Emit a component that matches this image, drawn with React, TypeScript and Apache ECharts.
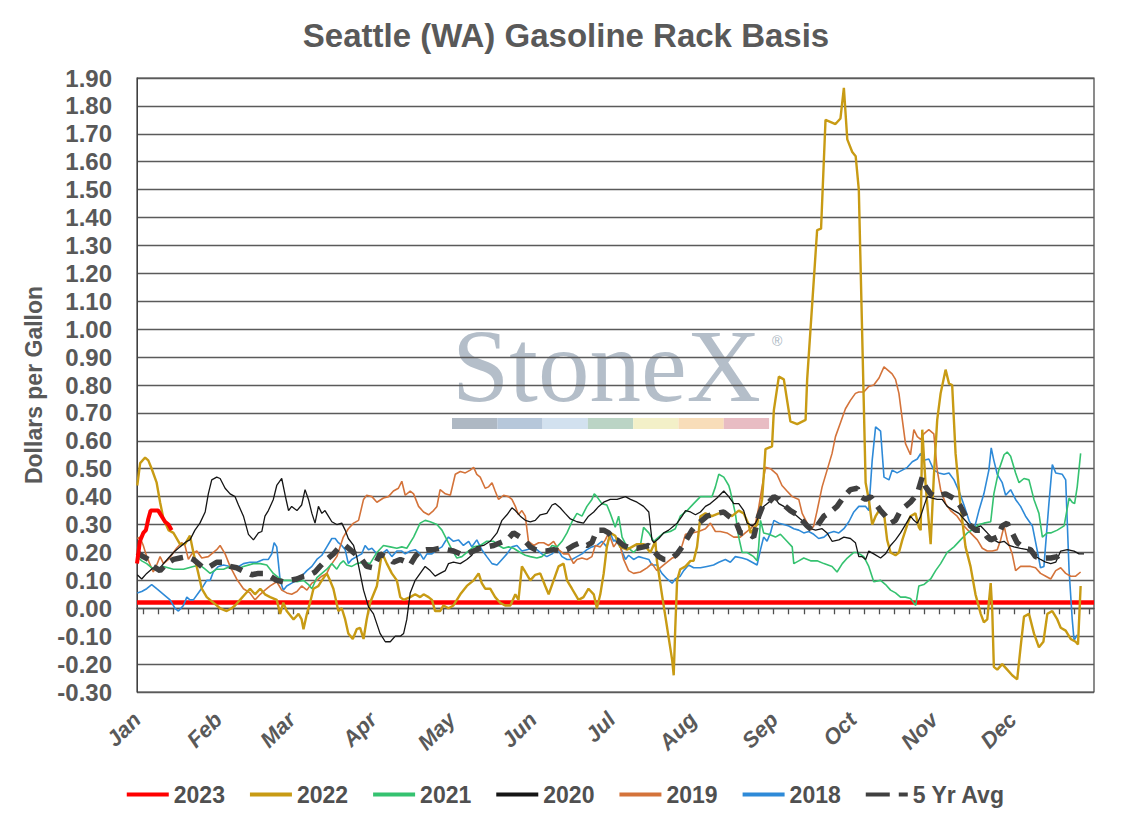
import React, { useEffect, useRef } from "react";
import * as echarts from "echarts";

const monthNames = ["Jan", "Feb", "Mar", "Apr", "May", "Jun", "Jul", "Aug", "Sep", "Oct", "Nov", "Dec"];
const monthStartDays = [0, 31, 59, 90, 120, 151, 181, 212, 243, 273, 304, 334];
const yTickMin = -0.3;
const yTickMax = 1.9;
const yTickStep = 0.1;
const refLineValue = 0.02;

const s2023: [number, number][] = [[0,0.16],[1.1,0.24],[2.4,0.27],[3.4,0.28],[4.3,0.32],[5.2,0.35],[6.9,0.35],[8.1,0.35],[9.4,0.33],[10.7,0.31],[12,0.3],[13.2,0.28]];

const s2022: [number, number][] = [[0.1,0.44],[1.2,0.52],[3.1,0.54],[4.3,0.53],[5.6,0.5],[7.5,0.45],[8.8,0.38],[10.1,0.32],[12,0.28],[13.9,0.27],[16.4,0.23],[18.3,0.23],[20.2,0.26],[21.5,0.2],[23.4,0.125],[24.7,0.07],[26.6,0.04],[29.1,0.02],[31.7,0],[34.2,-0.01],[36.1,0],[37.4,0.01],[39.3,0.03],[41.2,0.05],[43.1,0.07],[45,0.05],[47,0.07],[48.8,0.05],[50.8,0.04],[53.3,0.03],[54.6,-0.02],[55.8,0.02],[57.1,-0.01],[59.7,-0.04],[61.6,-0.02],[62.8,-0.04],[63.5,-0.075],[64.8,-0.02],[66,0.02],[67.3,0.07],[69.2,0.08],[70.5,0.1],[72.4,0.125],[73.6,0.1],[74.9,0.07],[76.8,-0.01],[78.1,0],[79.4,-0.04],[80.6,-0.09],[82.3,-0.11],[83.8,-0.075],[85.1,-0.07],[86.4,-0.11],[87.6,-0.04],[88.9,0.02],[91.5,0.08],[93.4,0.2],[95.3,0.16],[97.2,0.125],[99.1,0.1],[100.4,0.04],[101.7,0.03],[104.2,0.04],[106.1,0.05],[108,0.04],[109.3,0.05],[111.2,0.04],[112.5,0.03],[113.7,-0.01],[115.6,-0.01],[116.9,0.01],[118.8,0],[120.7,0.01],[123.3,0.05],[125.8,0.08],[128.4,0.1],[130.3,0.125],[131.5,0.09],[132.8,0.07],[134.7,0.07],[136.6,0.04],[138.5,0.02],[140.4,0.01],[142.4,0.01],[144.3,0.05],[145.5,0.03],[146.8,0.15],[148.1,0.13],[150,0.1],[151.9,0.12],[153.8,0.125],[155.7,0.08],[157,0.05],[158.9,0.1],[160.8,0.15],[162.7,0.16],[164,0.1],[165.9,0.07],[168.4,0.03],[170.3,0.04],[172.2,0.07],[174.2,0.05],[175.4,0],[176.7,0.05],[178,0.125],[179.2,0.22],[180.5,0.27],[182.4,0.26],[184.3,0.22],[186.9,0.21],[190.7,0.23],[193.2,0.23],[195.8,0.2],[197.7,0.24],[198.3,0.17],[200.2,0.05],[202.2,-0.07],[204.1,-0.185],[204.7,-0.24],[205.3,-0.07],[206,0.1],[207.2,0.14],[209.2,0.15],[211.1,0.17],[212.3,0.17],[213.6,0.22],[214.9,0.33],[216.8,0.34],[219.3,0.33],[221.9,0.34],[224.4,0.34],[226.9,0.33],[229.5,0.35],[231.4,0.34],[233.3,0.3],[234,0.27],[236.5,0.3],[238.4,0.39],[239.3,0.51],[239.7,0.57],[242.2,0.58],[242.9,0.71],[244.8,0.83],[246.7,0.82],[249.2,0.67],[251.8,0.66],[255,0.675],[255.6,0.82],[259.4,1.355],[260.9,1.36],[262.6,1.75],[266.4,1.735],[268.3,1.755],[269.6,1.865],[270.9,1.68],[272.8,1.635],[274.1,1.62],[275.3,1.5],[277.9,0.45],[279.1,0.39],[280.4,0.3],[281.7,0.33],[283,0.35],[284.9,0.34],[286.1,0.245],[287.4,0.2],[289.3,0.19],[290.6,0.2],[291.9,0.245],[293.8,0.3],[295,0.33],[296.9,0.34],[298.2,0.29],[298.9,0.28],[299.5,0.64],[300.8,0.44],[302.7,0.23],[303.9,0.47],[305.2,0.675],[306.5,0.77],[308.4,0.855],[309.7,0.805],[310.9,0.8],[312.2,0.555],[314.1,0.365],[316,0.22],[317.9,0.15],[319.8,0.05],[321.8,-0.02],[323,-0.05],[324.3,-0.04],[325.6,0.09],[326.2,-0.01],[326.8,-0.21],[328.1,-0.22],[330,-0.2],[331.9,-0.22],[333.8,-0.24],[335.7,-0.255],[337,-0.14],[338.3,-0.03],[340.2,-0.02],[342.1,-0.09],[344,-0.14],[345.7,-0.12],[347.2,-0.02],[349.1,-0.01],[351,-0.04],[352.3,-0.07],[354.2,-0.08],[356.1,-0.11],[358,-0.12],[358.9,-0.13],[359.9,0.08]];

const s2021: [number, number][] = [[0.1,0.185],[1.8,0.17],[3.7,0.16],[6.2,0.14],[10.1,0.15],[13.9,0.14],[17.7,0.14],[21.5,0.15],[24,0.155],[26,0.14],[27.9,0.125],[30.4,0.14],[33,0.14],[35.5,0.15],[38,0.14],[40.6,0.15],[44.4,0.16],[47,0.16],[49.5,0.155],[52,0.125],[54,0.11],[55.8,0.1],[58.4,0.1],[61,0.095],[63.5,0.1],[65.4,0.085],[66.7,0.07],[68.6,0.11],[70.5,0.125],[72.4,0.14],[74.3,0.16],[76.2,0.14],[77.5,0.16],[78.7,0.17],[80,0.155],[81.9,0.15],[83.8,0.16],[86.4,0.165],[88.9,0.16],[91.5,0.2],[94,0.225],[96.6,0.22],[99.1,0.215],[101,0.22],[102.9,0.215],[105.5,0.255],[108,0.305],[109.9,0.315],[111.8,0.31],[114.4,0.3],[116.3,0.28],[118.2,0.245],[120.1,0.21],[122,0.18],[123.9,0.185],[125.8,0.2],[128.4,0.22],[130.9,0.225],[133.4,0.24],[136,0.24],[137.9,0.225],[139.8,0.215],[141.7,0.22],[143.6,0.215],[146.2,0.2],[148.1,0.19],[150,0.185],[152.5,0.18],[154.4,0.185],[156.3,0.2],[158.3,0.225],[160.2,0.22],[162.1,0.24],[164,0.27],[165.9,0.31],[167.8,0.34],[169.7,0.33],[171.6,0.365],[173.5,0.39],[174.4,0.41],[175.4,0.4],[177.3,0.375],[179.2,0.37],[180.5,0.34],[182.4,0.29],[183.7,0.33],[185,0.255],[186.9,0.22],[189.4,0.2],[192,0.225],[193.2,0.29],[195.2,0.27],[197.1,0.24],[199,0.255],[200.9,0.27],[203.4,0.275],[205.3,0.285],[207.2,0.33],[209.8,0.35],[212.3,0.375],[214.9,0.4],[217.4,0.4],[219.3,0.4],[220.6,0.435],[221.9,0.48],[223.8,0.47],[225.7,0.44],[226.3,0.42],[228.2,0.34],[229.5,0.255],[230.8,0.2],[232.7,0.2],[235.2,0.185],[236.5,0.17],[237.1,0.22],[237.8,0.315],[239,0.27],[241,0.265],[243.5,0.255],[245.4,0.265],[247.9,0.24],[249.9,0.22],[250.5,0.16],[252.4,0.17],[254.3,0.18],[256.9,0.17],[259.4,0.17],[262,0.16],[265.1,0.15],[267,0.13],[269,0.16],[270.9,0.18],[273.4,0.2],[274.7,0.2],[277.2,0.185],[279.1,0.15],[281,0.095],[283.6,0.1],[285.5,0.085],[287.4,0.065],[289.3,0.055],[291.2,0.04],[293.1,0.04],[295,0.035],[297,0.01],[298.2,0.08],[300.1,0.085],[302.7,0.105],[304.6,0.135],[306.5,0.16],[309,0.2],[311.6,0.22],[314.1,0.245],[316.7,0.27],[319.2,0.285],[321.1,0.3],[323,0.305],[325.6,0.31],[326.8,0.41],[328.7,0.495],[330.7,0.55],[331.9,0.56],[333.2,0.545],[335.1,0.485],[336.4,0.45],[338.3,0.465],[340.2,0.46],[342.1,0.39],[344,0.34],[345.3,0.255],[347.2,0.27],[348.5,0.27],[351,0.28],[353.6,0.295],[355.5,0.395],[356.7,0.38],[357.6,0.375],[358.6,0.435],[359.9,0.555]];

const s2020: [number, number][] = [[0.1,0.12],[1.8,0.105],[3.7,0.125],[6.2,0.145],[8.1,0.135],[10.1,0.16],[12,0.18],[13.9,0.2],[16.4,0.22],[19,0.24],[20.2,0.245],[22.1,0.28],[24,0.305],[26,0.345],[27.2,0.41],[28.5,0.46],[30.4,0.47],[31.7,0.465],[33.6,0.43],[35.5,0.41],[37.4,0.4],[38.7,0.37],[40.6,0.33],[42.5,0.265],[44.4,0.245],[46.3,0.27],[47.6,0.275],[48.8,0.33],[50.1,0.35],[52,0.39],[53.3,0.44],[55.2,0.465],[56.5,0.405],[57.8,0.35],[59,0.365],[61,0.35],[62.8,0.37],[64.1,0.425],[65.4,0.39],[66.7,0.34],[67.9,0.305],[69.2,0.365],[70.5,0.34],[71.7,0.35],[73,0.33],[74.3,0.31],[76.2,0.3],[78.1,0.305],[79.4,0.28],[80.6,0.25],[82.6,0.225],[83.8,0.185],[85.1,0.125],[86.4,0.065],[88.3,0.005],[90.2,-0.02],[92.7,-0.09],[94.7,-0.12],[96.6,-0.12],[98.5,-0.1],[100.4,-0.1],[101.7,-0.09],[102.9,-0.04],[104.2,0.055],[106.1,0.1],[108,0.125],[109.9,0.15],[111.8,0.135],[113.7,0.115],[115.6,0.125],[117.6,0.135],[118.8,0.16],[120.7,0.165],[123.3,0.16],[125.8,0.175],[127.7,0.19],[129.6,0.22],[132.2,0.225],[134.7,0.24],[137.3,0.27],[139.2,0.315],[141.1,0.335],[143,0.36],[144.3,0.35],[146.2,0.33],[148.1,0.315],[150,0.31],[151.9,0.315],[153.8,0.335],[156.3,0.34],[158.3,0.37],[159.5,0.375],[161.4,0.36],[163.3,0.34],[165.3,0.32],[167.8,0.31],[170.3,0.305],[172.2,0.33],[174.2,0.345],[176.1,0.365],[178,0.38],[180.5,0.39],[183.1,0.39],[186.3,0.4],[188.2,0.39],[190.7,0.38],[193.2,0.365],[195.2,0.345],[196.4,0.245],[197.1,0.235],[199,0.25],[200.9,0.27],[202.8,0.28],[204.7,0.295],[206,0.305],[207.9,0.33],[209.2,0.35],[211.1,0.345],[213,0.335],[214.9,0.345],[216.8,0.365],[218.7,0.375],[221.2,0.395],[223.8,0.42],[225.7,0.4],[227.6,0.375],[229.5,0.375],[231.4,0.35],[232.7,0.305],[234.6,0.295],[235.9,0.305],[237.1,0.33],[239,0.365],[241,0.38],[242.9,0.4],[244.8,0.375],[246.7,0.365],[249.2,0.345],[251.1,0.335],[253,0.32],[255,0.305],[256.9,0.285],[258.8,0.28],[261.3,0.285],[263.2,0.27],[265.1,0.24],[267.7,0.245],[269.6,0.255],[272.1,0.25],[274,0.235],[275.3,0.185],[276.6,0.185],[277.9,0.175],[279.1,0.205],[281,0.195],[283.6,0.18],[285.5,0.195],[287.4,0.225],[289.3,0.245],[291.2,0.27],[293.1,0.3],[295,0.33],[296.3,0.315],[297.6,0.305],[298.9,0.33],[300.1,0.365],[301.4,0.4],[303.3,0.395],[305.2,0.39],[307.1,0.39],[309,0.365],[311.6,0.35],[313.5,0.34],[315.4,0.32],[317.3,0.3],[319.2,0.285],[321.8,0.295],[324.3,0.27],[326.8,0.245],[328.7,0.235],[330.7,0.24],[332.6,0.225],[334.5,0.22],[337,0.215],[339.6,0.21],[342.1,0.19],[344.6,0.175],[346.6,0.165],[348.5,0.16],[350.4,0.165],[352.3,0.205],[354.8,0.21],[357.4,0.205],[359.3,0.195],[361.2,0.195]];

const s2019: [number, number][] = [[0.1,0.25],[1.1,0.255],[2.4,0.225],[3.7,0.185],[6.2,0.13],[7.5,0.155],[8.8,0.185],[10.1,0.16],[12,0.175],[15.1,0.215],[17,0.235],[18.3,0.225],[19.6,0.175],[20.9,0.195],[22.8,0.205],[24.7,0.18],[27.2,0.185],[30.4,0.21],[31.7,0.225],[33.6,0.195],[35.5,0.15],[38,0.105],[40.6,0.07],[43.1,0.055],[45,0.03],[47,0.05],[48.8,0.065],[50.8,0.08],[53.3,0.095],[55.2,0.065],[57.1,0.055],[59,0.05],[61,0.06],[62.8,0.08],[64.8,0.065],[66.7,0.09],[68.6,0.1],[70.5,0.115],[72.4,0.125],[73.6,0.15],[76.2,0.185],[78.7,0.255],[80.6,0.285],[82.6,0.305],[84.5,0.315],[86.4,0.39],[87.6,0.405],[89.6,0.4],[91.5,0.38],[94,0.395],[95.9,0.4],[97.8,0.42],[99.7,0.43],[101,0.455],[102.3,0.405],[104.2,0.42],[105.5,0.41],[107.4,0.365],[109.3,0.345],[111.2,0.335],[113.1,0.35],[114.4,0.365],[115.6,0.425],[117.6,0.41],[119.5,0.405],[121.4,0.48],[123.3,0.49],[125.2,0.485],[127.1,0.495],[128.4,0.505],[129.6,0.48],[130.9,0.47],[132.8,0.43],[134.1,0.435],[135.4,0.45],[136.6,0.42],[137.9,0.39],[139.8,0.405],[141.7,0.4],[143,0.39],[144.3,0.365],[145.5,0.335],[146.8,0.35],[148.1,0.33],[149.3,0.24],[151.3,0.225],[153.2,0.235],[155.1,0.235],[157,0.225],[158.9,0.24],[160.8,0.21],[162.7,0.195],[164.6,0.195],[166.5,0.16],[167.8,0.175],[169.7,0.18],[171.6,0.175],[173.5,0.185],[174.8,0.225],[176.7,0.22],[178.6,0.245],[179.9,0.27],[181.8,0.22],[183.7,0.245],[185.6,0.175],[187.5,0.135],[189.4,0.125],[192,0.13],[194.5,0.145],[196.4,0.16],[198.3,0.135],[200.2,0.15],[202.2,0.165],[204.1,0.18],[206,0.185],[207.9,0.225],[209.2,0.265],[211.7,0.27],[214.2,0.275],[216.8,0.285],[218.7,0.305],[220.6,0.275],[222.5,0.275],[225,0.27],[227.6,0.255],[230.1,0.255],[232,0.27],[234,0.285],[235.9,0.305],[237.1,0.36],[238.4,0.435],[239.7,0.505],[241.6,0.5],[244.1,0.48],[246,0.44],[247.9,0.42],[249.9,0.4],[252.4,0.39],[253.7,0.34],[255.6,0.305],[256.9,0.28],[258.1,0.295],[259.4,0.35],[261.3,0.435],[263.2,0.495],[265.1,0.555],[266.4,0.615],[268.3,0.665],[270.2,0.715],[272.1,0.745],[274,0.77],[275.3,0.775],[277.2,0.775],[279.1,0.795],[281,0.8],[283,0.825],[284.9,0.865],[286.8,0.85],[288,0.84],[289.3,0.82],[290.6,0.77],[291.9,0.675],[293.1,0.59],[295,0.55],[296.3,0.64],[297.6,0.615],[298.9,0.605],[300.1,0.625],[302,0.64],[303.9,0.625],[305.2,0.495],[306.5,0.425],[308.4,0.375],[310.3,0.35],[312.8,0.33],[315.4,0.295],[317.9,0.27],[320.5,0.245],[322.4,0.215],[324.3,0.205],[326.2,0.205],[328.1,0.21],[329.4,0.245],[330.7,0.295],[331.9,0.245],[333.8,0.195],[335.1,0.135],[337,0.15],[338.9,0.15],[340.8,0.15],[342.7,0.145],[344.6,0.125],[346.6,0.115],[348.5,0.105],[350.4,0.135],[352.3,0.145],[354.2,0.125],[356.1,0.115],[358,0.115],[359.9,0.13]];

const s2018: [number, number][] = [[0.1,0.055],[1.8,0.06],[3.7,0.07],[5.6,0.085],[7.5,0.07],[10.1,0.05],[12.6,0.03],[14.5,0],[15.8,-0.01],[17.7,0.01],[19,0.04],[20.2,0.03],[21.5,0.03],[23.4,0.055],[25.3,0.08],[26.6,0.1],[27.9,0.1],[29.1,0.13],[31,0.15],[33,0.155],[35.5,0.15],[38,0.145],[40.6,0.16],[43.1,0.165],[45.7,0.165],[48.2,0.175],[50.1,0.175],[51.4,0.195],[52.3,0.235],[53.3,0.22],[54.6,0.1],[55.8,0.065],[57.1,0.08],[59,0.09],[61,0.1],[62.8,0.115],[64.8,0.135],[66.7,0.15],[68.6,0.175],[70.5,0.19],[72.4,0.22],[74.3,0.25],[75.6,0.25],[76.8,0.235],[78.1,0.225],[79.4,0.21],[80.6,0.16],[81.9,0.175],[83.8,0.185],[85.7,0.195],[87,0.225],[88.3,0.21],[89.6,0.215],[91.5,0.195],[93.4,0.195],[95.3,0.21],[97.2,0.185],[99.1,0.205],[101,0.205],[102.3,0.195],[104.2,0.205],[106.1,0.21],[108,0.195],[109.3,0.175],[110.6,0.195],[112.5,0.195],[114.4,0.21],[116.3,0.22],[117.6,0.24],[118.8,0.255],[120.7,0.24],[122.6,0.245],[124.5,0.225],[126.5,0.24],[127.7,0.22],[129.6,0.245],[131.5,0.21],[133.4,0.185],[135.4,0.16],[137.3,0.155],[139.2,0.175],[141.1,0.195],[143,0.22],[144.9,0.225],[146.8,0.205],[148.7,0.21],[150.6,0.215],[152.5,0.21],[154.4,0.195],[156.3,0.185],[158.3,0.195],[160.2,0.215],[162.1,0.185],[164,0.175],[165.9,0.175],[167.8,0.185],[169.7,0.195],[171.6,0.21],[173.5,0.22],[175.4,0.225],[177.3,0.24],[179.2,0.22],[180.5,0.27],[181.8,0.24],[182.4,0.245],[184.3,0.22],[186.3,0.175],[187.5,0.19],[189.4,0.175],[191.3,0.185],[193.2,0.18],[195.2,0.175],[196.4,0.155],[198.3,0.155],[200.2,0.125],[202.2,0.105],[204.1,0.09],[205.3,0.105],[207.2,0.115],[208.5,0.135],[210.4,0.155],[212.3,0.145],[214.9,0.145],[217.4,0.15],[219.9,0.155],[221.9,0.165],[224.4,0.175],[226.3,0.165],[228.2,0.185],[230.8,0.18],[232.7,0.175],[234.6,0.165],[236.5,0.155],[237.8,0.21],[239,0.255],[240.3,0.24],[241.6,0.27],[242.9,0.315],[244.8,0.305],[246.7,0.3],[248.6,0.295],[250.5,0.285],[252.4,0.28],[254.3,0.27],[256.2,0.275],[258.1,0.265],[260,0.25],[262,0.255],[263.9,0.27],[265.8,0.275],[267.7,0.27],[269.6,0.285],[271.5,0.31],[273.4,0.345],[275.3,0.365],[277.9,0.365],[279.1,0.35],[280.4,0.53],[281.7,0.65],[283.6,0.635],[284.9,0.47],[286.8,0.46],[288,0.495],[289.9,0.485],[291.9,0.495],[293.8,0.505],[295.7,0.525],[297.6,0.535],[298.9,0.555],[300.1,0.53],[302,0.535],[303.9,0.495],[305.8,0.485],[307.8,0.48],[309.7,0.485],[311.6,0.46],[313.5,0.42],[315.4,0.37],[317.3,0.315],[319.2,0.28],[321.1,0.35],[323,0.41],[324.9,0.495],[325.8,0.575],[326.8,0.53],[328.1,0.48],[330,0.45],[331.3,0.405],[333.2,0.425],[335.1,0.39],[337,0.365],[338.9,0.33],[341.5,0.295],[343.4,0.205],[344.6,0.145],[345.9,0.15],[347.8,0.375],[349.1,0.515],[350.4,0.485],[352.9,0.48],[354.2,0.46],[355.5,0.135],[356.7,-0.04],[357.4,-0.115],[358.6,-0.095]];

const sAvg: [number, number][] = [[0.1,0.2],[2.4,0.185],[4.3,0.175],[6.2,0.15],[8.8,0.135],[11.3,0.16],[13.9,0.175],[16.4,0.18],[19,0.185],[21.5,0.175],[23.4,0.16],[25.3,0.145],[27.9,0.15],[30.4,0.165],[33,0.165],[35.5,0.15],[38,0.145],[41.2,0.13],[43.8,0.12],[46.3,0.125],[48.2,0.125],[50.8,0.115],[53.3,0.1],[55.8,0.095],[58.4,0.1],[61,0.105],[63.5,0.115],[66,0.12],[67.9,0.13],[69.8,0.15],[72.4,0.175],[74.9,0.195],[76.8,0.215],[79.4,0.225],[81.3,0.21],[83.8,0.19],[85.7,0.175],[87.6,0.15],[90.2,0.145],[92.7,0.195],[94.7,0.185],[96.6,0.175],[97.8,0.165],[100.4,0.175],[102.9,0.165],[104.2,0.155],[106.1,0.185],[108,0.205],[110.6,0.21],[113.1,0.21],[115.6,0.215],[118.2,0.21],[120.7,0.205],[123.3,0.195],[125.8,0.195],[128.4,0.205],[130.9,0.215],[133.4,0.22],[136,0.225],[138.5,0.235],[141.1,0.245],[143.6,0.27],[146.2,0.255],[148.1,0.24],[150,0.22],[151.9,0.21],[153.8,0.205],[156.3,0.205],[158.9,0.21],[161.4,0.205],[164,0.21],[166.5,0.225],[169.1,0.235],[171.6,0.225],[173.5,0.235],[175.4,0.28],[178,0.28],[179.9,0.27],[181.8,0.245],[183.1,0.245],[185.6,0.225],[188.2,0.215],[190.7,0.215],[193.2,0.22],[195.2,0.225],[197.1,0.205],[199,0.185],[200.9,0.175],[203.4,0.175],[206,0.195],[207.9,0.22],[209.8,0.25],[211.7,0.28],[213.6,0.3],[215.5,0.315],[217.4,0.33],[219.3,0.335],[221.2,0.34],[223.8,0.345],[225.7,0.33],[228.2,0.315],[230.1,0.27],[232.7,0.27],[235.2,0.255],[237.1,0.33],[239,0.375],[241,0.38],[242.9,0.4],[244.8,0.39],[246.7,0.37],[249.2,0.35],[251.8,0.335],[253.7,0.315],[255.6,0.295],[257.5,0.28],[259.4,0.295],[262,0.33],[264.5,0.345],[267,0.365],[269.6,0.4],[272.1,0.425],[274.7,0.43],[275.9,0.4],[277.9,0.39],[279.8,0.4],[281.7,0.375],[283.6,0.35],[285.5,0.33],[287.4,0.305],[289.3,0.315],[291.2,0.35],[293.1,0.365],[295,0.38],[297.6,0.41],[299.5,0.47],[300.8,0.435],[302.7,0.41],[304.6,0.4],[306.5,0.405],[308.4,0.41],[310.3,0.4],[312.2,0.39],[314.1,0.365],[316,0.33],[317.9,0.295],[319.8,0.28],[322.4,0.28],[324.3,0.255],[325.6,0.245],[328.1,0.255],[330,0.295],[331.9,0.305],[333.8,0.27],[335.7,0.235],[338.3,0.215],[340.8,0.21],[342.7,0.185],[345.3,0.18],[348.5,0.18],[351,0.185],[352.3,0.195]];

const FONT = "'Liberation Sans', Arial, sans-serif";
const stripColors = ["#AEB8C3", "#B6C7DA", "#D2E1EF", "#BBD4C5", "#F3F0C8", "#F8DDB9", "#E8BCC3"];
const ICON_SOLID = "path://M0,0H42V4H0Z";
const ICON_DASH = "path://M0,0H24V4H0ZM33,0H42V4H33Z";

export default function App() {
  const ref = useRef<HTMLDivElement>(null);
  useEffect(() => {
    document.body.style.margin = "0";
    if (!ref.current) return;
    const chart = echarts.init(ref.current, undefined, { renderer: "svg" });
    const tickDays: number[] = [];
    for (let k = 0; k < 64; k++) tickDays.push(2.4 + k * 5.725);

    const mk = (name: string, data: [number, number][], color: string, width: number, z: number, type: any = "solid") => ({
      name,
      type: "line",
      data,
      xAxisIndex: 0,
      yAxisIndex: 0,
      symbol: "none",
      smooth: false,
      z,
      lineStyle: { color, width, type },
      itemStyle: { color },
    });

    const wmX = 452;
    const stripW = 45.3;
    const graphics: any[] = [
      {
        type: "text",
        x: 452,
        y: 366,
        z: -10,
        style: {
          text: "StoneX",
          font: "103px 'Liberation Serif', 'Times New Roman', serif",
          fill: "#A7B3C0",
          opacity: 0.85,
          verticalAlign: "middle",
          align: "left",
        },
      },
      {
        type: "text",
        x: 772,
        y: 341,
        z: -10,
        style: { text: "®", font: "14px 'Liberation Sans', sans-serif", fill: "#AAB6C2", verticalAlign: "middle" },
      },
      ...stripColors.map((c, i) => ({
        type: "rect",
        z: -10,
        shape: { x: wmX + i * stripW, y: 418, width: stripW, height: 11 },
        style: { fill: c },
      })),
    ];

    const legendNames = ["2023", "2022", "2021", "2020", "2019", "2018", "5 Yr Avg"];

    chart.setOption({
      animation: false,
      backgroundColor: "#ffffff",
      title: {
        text: "Seattle (WA) Gasoline Rack Basis",
        left: "center",
        top: 14,
        textStyle: { fontFamily: FONT, fontSize: 33, fontWeight: "bold", color: "#595959" },
      },
      graphic: { elements: graphics },
      legend: {
        data: legendNames.map((n) => ({ name: n, icon: n === "5 Yr Avg" ? ICON_DASH : ICON_SOLID })),
        left: "center",
        top: 778,
        itemWidth: 42,
        itemHeight: 4,
        itemGap: 25,
        textStyle: { fontFamily: FONT, fontSize: 23, fontWeight: "bold", color: "#505050" },
      },
      grid: {
        left: 137,
        right: 38,
        top: 78,
        bottom: 130,
        show: true,
        borderColor: "#404040",
        borderWidth: 1.2,
        containLabel: false,
      },
      xAxis: [
        {
          type: "value",
          min: 0,
          max: 365,
          position: "bottom",
          axisLine: { show: false, onZero: false },
          axisTick: { show: false },
          splitLine: { show: false },
          axisLabel: {
            customValues: monthStartDays,
            formatter: (v: number) => monthNames[monthStartDays.indexOf(Math.round(v))] ?? "",
            rotate: 45,
            margin: 24,
            fontFamily: FONT,
            fontSize: 22,
            fontWeight: "bold",
            fontStyle: "italic",
            color: "#595959",
          },
        },
        {
          type: "value",
          min: 0,
          max: 365,
          position: "top",
          axisLine: { show: true, onZero: true, lineStyle: { color: "#505050", width: 1.3 } },
          axisTick: { show: true, inside: true, length: 6, customValues: tickDays, lineStyle: { color: "#505050", width: 1.3 } },
          axisLabel: { show: false },
          splitLine: { show: false },
        },
      ],
      yAxis: {
        type: "value",
        min: yTickMin,
        max: yTickMax,
        interval: yTickStep,
        name: "Dollars per Gallon",
        nameLocation: "middle",
        nameGap: 92,
        nameTextStyle: { fontFamily: FONT, fontSize: 23, fontWeight: "bold", color: "#595959" },
        axisLine: { show: true, lineStyle: { color: "#404040" } },
        axisTick: { show: false },
        splitLine: { show: true, lineStyle: { color: "#5A5A5A", width: 1.3 } },
        axisLabel: {
          formatter: (v: number) => v.toFixed(2),
          margin: 25,
          fontFamily: FONT,
          fontSize: 24,
          fontWeight: "bold",
          color: "#595959",
        },
      },
      series: [
        {
          ...mk("2023", s2023, "#FF0000", 4, 20),
          markLine: {
            silent: true,
            symbol: "none",
            label: { show: false },
            lineStyle: { color: "#FF0000", width: 4.5, type: "solid" },
            data: [{ yAxis: refLineValue }],
          },
        },
        mk("2022", s2022, "#C89B14", 2.4, 12),
        mk("2021", s2021, "#35C270", 1.6, 11),
        mk("2020", s2020, "#151515", 1.3, 13),
        mk("2019", s2019, "#D4733A", 1.6, 10),
        mk("2018", s2018, "#2E8AD8", 1.6, 9),
        mk("5 Yr Avg", sAvg, "#404040", 5.5, 15, [13, 9]),
      ],
    });
    return () => chart.dispose();
  }, []);
  return <div ref={ref} style={{ width: 1132, height: 822 }} />;
}
